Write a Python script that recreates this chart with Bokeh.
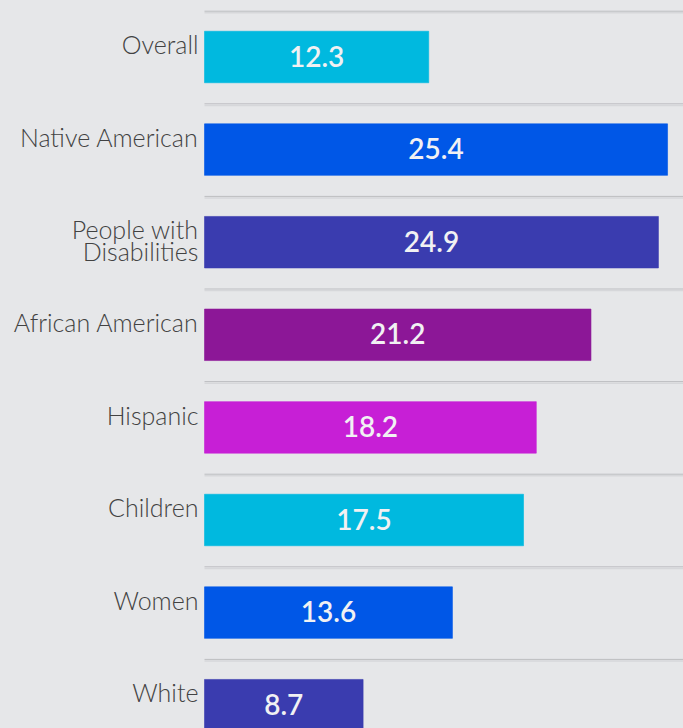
from bokeh.plotting import figure
from bokeh.models import ColumnDataSource, Range1d
from bokeh.core.properties import value
from bokeh.embed import file_html
from bokeh.resources import INLINE

categories = ["Overall", "Native American", "People with\nDisabilities", "African American",
              "Hispanic", "Children", "Women", "White"]
values = [12.3, 25.4, 24.9, 21.2, 18.2, 17.5, 13.6, 8.7]
palette = ["#00b9df", "#0057e7", "#3a3caf", "#8c1797", "#c71fd6"]

BG = "#e6e7e9"
PX_Y = 92.6          # pixels per category step
PX_X = 18.23         # pixels per value unit
BAR_H = 51.5 / PX_Y  # bar thickness in category units
BASE_FIX = 10        # svg alphabetic baseline correction (px)

n = len(categories)
idx = list(range(n))
colors = [palette[i % len(palette)] for i in idx]

XMIN, XMAX = -204 / PX_X, 479 / PX_X
YTOP, YBOT = -56.5 / PX_Y, (728 - 56.5) / PX_Y

p = figure(width=683, height=728, output_backend="svg", toolbar_location=None,
           x_range=Range1d(XMIN, XMAX), y_range=Range1d(YBOT, YTOP),
           min_border=0, background_fill_color=BG, border_fill_color=BG)
p.axis.visible = False
p.grid.visible = False
p.outline_line_color = None

# separators
sep_y = [i - 45.8 / PX_Y for i in idx]
p.segment(x0=[0] * n, x1=[XMAX] * n, y0=sep_y, y1=sep_y, line_color="#bcbdc0", line_width=1)
sep_y2 = [y + 1.6 / PX_Y for y in sep_y]
p.segment(x0=[0] * n, x1=[XMAX] * n, y0=sep_y2, y1=sep_y2, line_color="#d6d7da", line_width=1.5)

src = ColumnDataSource(dict(y=idx, v=values, c=colors,
                            lab=[f"{v:.1f}" for v in values],
                            mid=[v / 2 for v in values],
                            ty=[i + (9 - BASE_FIX) / PX_Y for i in idx]))
p.hbar(y="y", left=0, right="v", height=BAR_H, fill_color="c", line_color="c",
       line_alpha=0.6, line_width=1, source=src)

p.text(x="mid", y="ty", text="lab", source=src, text_align="center",
       text_baseline="alphabetic", text_color="#f1f1f3", text_font=value("Lato Semibold"),
       text_font_size="28px")

# category labels, one text per line, baseline relative to bar top
lx, ly, lt = [], [], []
for i, name in enumerate(categories):
    for k, line in enumerate(name.split("\n")):
        lx.append(-6 / PX_X)
        ly.append(i - BAR_H / 2 + (23 - BASE_FIX + 21.7 * k) / PX_Y)
        lt.append(line)
p.text(x=lx, y=ly, text=lt, text_align="right", text_baseline="alphabetic",
       text_color="#424242", text_font=value("Lato Light"), text_font_size="25px")

html = file_html(p, INLINE)
html = html.replace("<head>", "<head><style>body{background:%s;}</style>" % BG, 1)
open("out.html", "w").write(html)
